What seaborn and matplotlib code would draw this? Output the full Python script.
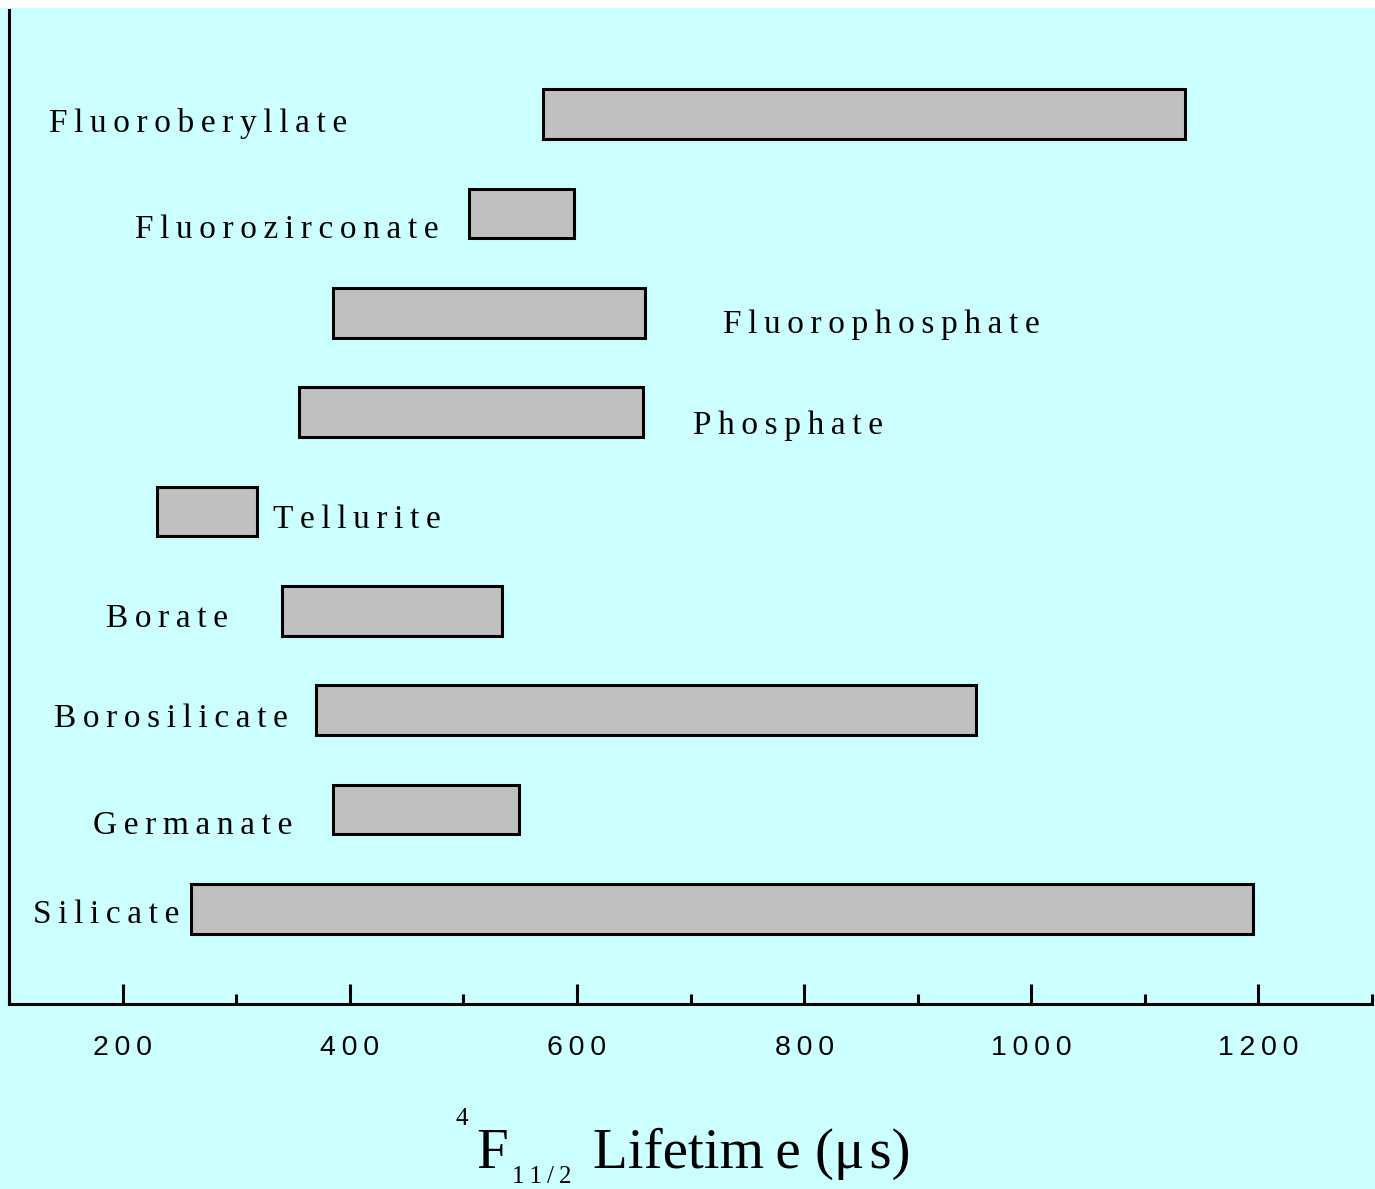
"""
4F11/2 lifetime ranges of Nd3+ in different glass hosts.
Saves out.png
"""
import matplotlib
matplotlib.use("Agg")
import matplotlib.pyplot as plt
from matplotlib.patches import Rectangle
from matplotlib.ticker import FixedLocator, MultipleLocator
import pandas as pd
import seaborn as sns

# data
glasses = ["Fluoroberyllate", "Fluorozirconate", "Fluorophosphate", "Phosphate",
           "Tellurite", "Borate", "Borosilicate", "Germanate", "Silicate"]
lifetime_min = [570, 505, 385, 355, 230, 340, 370, 385, 260]
lifetime_max = [1135, 597, 660, 658, 318, 534, 951, 549, 1195]
xticks = [200, 400, 600, 800, 1000, 1200]

# where each name sits: left edge (us) and baseline offset below the bar centre
label_x = [135, 211, 729, 702, 332, 185, 140, 174, 121]
label_dy = [0.18, 0.25, 0.20, 0.22, 0.17, 0.16, 0.17, 0.25, 0.14]

BG = "#CCFFFF"
W, H = 1375, 1189


def spaced(s, sep="\u2009"):
    return sep.join(s)


df = pd.DataFrame({"glass": glasses, "lo": lifetime_min, "hi": lifetime_max})
df["span"] = df["hi"] - df["lo"]

sns.set_style("ticks")
plt.rcParams["font.family"] = ["Liberation Serif", "DejaVu Serif"]
plt.rcParams["text.color"] = "black"
plt.rcParams["xtick.color"] = "black"

fig = plt.figure(figsize=(W / 100, H / 100), dpi=100, facecolor=BG)
ax = fig.add_axes([9 / W, 1 - 1004 / H, (1372 - 9) / W, (1004 - 10) / H])
ax.set_facecolor(BG)

sns.barplot(data=df, x="span", y="glass", orient="h", left=df["lo"].to_numpy(),
            width=0.5, color="#C0C0C0", saturation=1, errorbar=None,
            edgecolor="black", linewidth=2.2, ax=ax)

ax.set_xlim(100, 1300)
ax.set_ylim(8.956, -1.047)
ax.set_yticks([])
ax.set_ylabel("")
ax.set_xlabel("")

for side in ("top", "right"):
    ax.spines[side].set_visible(False)
for side in ("left", "bottom"):
    ax.spines[side].set_linewidth(2.2)
    ax.spines[side].set_color("black")

ax.xaxis.set_major_locator(FixedLocator(xticks))
ax.xaxis.set_minor_locator(MultipleLocator(100))
ax.set_xticklabels([spaced(str(t)) for t in xticks],
                   fontfamily=["Liberation Sans", "DejaVu Sans"], fontsize=20.5,
                   color="black")
ax.tick_params(axis="x", which="major", direction="in", length=14.4, width=2.2,
               pad=22, colors="black")
ax.tick_params(axis="x", which="minor", direction="in", length=7.2, width=2.2,
               colors="black")

for i, (name, lx, dy) in enumerate(zip(glasses, label_x, label_dy)):
    ax.text(lx, i + dy, spaced(name), ha="left", va="baseline", fontsize=24,
            color="black")


# x label built from pieces: superscript 4, F, subscript 11/2, rest
def px(x, y):
    return x / W, 1 - y / H


fig.text(*px(456, 1125), "4", fontsize=18, ha="left", va="baseline")
fig.text(*px(476, 1168), "F", fontsize=41, ha="left", va="baseline")
fig.text(*px(512, 1183), spaced("11/2"), fontsize=18, ha="left", va="baseline")
fig.text(*px(593, 1168), "Lifetim\u2009e (μ\u200as)",
         fontsize=41, ha="left", va="baseline")

# white strip along the top edge
fig.patches.append(Rectangle((0, 1 - 8 / H), 1, 8 / H, transform=fig.transFigure,
                             facecolor="white", edgecolor="none"))

fig.savefig("out.png", dpi=100, facecolor=BG)
